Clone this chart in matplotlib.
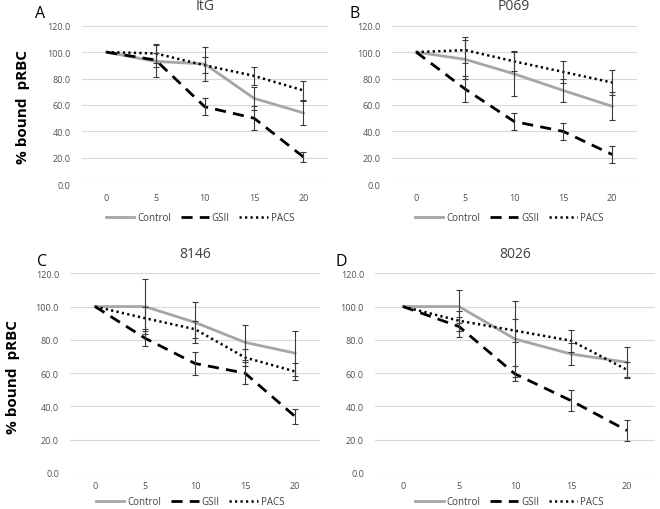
import numpy as np
import matplotlib
matplotlib.use("Agg")
import matplotlib.pyplot as plt

plt.rcParams['font.family'] = ['Open Sans', 'DejaVu Sans']

times = ['0', '5', '10', '15', '20']
series_names = ['Control', 'GSII', 'PACS']
panel_titles = ['ItG', 'P069', '8146', '8026']
panel_letters = ['A', 'B', 'C', 'D']

# mean % bound pRBC, per panel, per series
itg_mean = [[100, 93, 91, 65, 54], [100, 94, 58.6, 50, 20.7], [100, 99, 90, 82, 71]]
itg_err = [[0, 12, 13, 8.5, 9], [0, 5, 6.5, 9, 3.5], [0, 7, 6, 7, 7.5]]
p069_mean = [[100, 94.5, 83.5, 71, 59], [100, 72, 47.5, 40, 22.5], [100, 101.5, 93, 85, 77]]
p069_err = [[0, 15, 17, 8.5, 10.5], [0, 9.7, 6.5, 6.3, 6.5], [0, 10, 7, 8, 9.5]]
s8146_mean = [[100, 100, 90.5, 78.5, 72], [100, 81, 65.8, 60, 34], [100, 93, 86.4, 69.4, 61]]
s8146_err = [[0, 16.5, 12.5, 10.4, 13.5], [0, 4.5, 7.2, 6.5, 4.7], [0, 6.5, 5, 5, 5]]
s8026_mean = [[100, 100, 80.5, 71.5, 66.5], [100, 88, 59.5, 43.5, 25.5], [100, 91.5, 85.5, 79.5, 62]]
s8026_err = [[0, 10, 23, 6.5, 9.5], [0, 6, 4.5, 6.5, 6.5], [0, 6, 7, 6.6, 4.5]]

all_means = [itg_mean, p069_mean, s8146_mean, s8026_mean]
all_errs = [itg_err, p069_err, s8146_err, s8026_err]

fig = plt.figure(figsize=(6.6, 5.1), dpi=100)
positions = [[0.1238, 0.6367, 0.3732, 0.311],
             [0.5935, 0.6367, 0.3712, 0.311],
             [0.1061, 0.0706, 0.3788, 0.3916],
             [0.5682, 0.0706, 0.4242, 0.3916]]
legend_y = [-0.212, -0.212, -0.145, -0.145]
letter_pos = [(0.053, 0.972), (0.53, 0.972), (0.056, 0.486), (0.508, 0.486)]

styles = [dict(color='#A6A6A6', lw=2.0, ls='-'),
          dict(color='black', lw=2.0, ls=(0, (4, 2.6))),
          dict(color='black', lw=1.8, ls=(0, (0.9, 1.3)))]

x = np.arange(len(times))
for i in range(4):
    ax = fig.add_axes(positions[i])
    for j in range(3):
        ax.plot(x, all_means[i][j], label=series_names[j], zorder=3, **styles[j])
        ax.errorbar(x[1:], all_means[i][j][1:], yerr=all_errs[i][j][1:], fmt='none',
                    ecolor='#3a3a3a', elinewidth=0.8, capsize=2.5, capthick=0.8, zorder=4)
    ax.set_xlim(-0.5, 4.5)
    ax.set_ylim(0, 120)
    ax.set_yticks(np.arange(0, 121, 20))
    ax.set_yticklabels([f"{v:.1f}" for v in np.arange(0, 121, 20)])
    ax.set_xticks(x)
    ax.set_xticklabels(times)
    ax.grid(axis='y', color='#D9D9D9', lw=0.8)
    ax.set_axisbelow(True)
    for s in ax.spines.values():
        s.set_visible(False)
    ax.tick_params(length=0, labelsize=6.5, labelcolor='#505050', pad=6)
    ax.tick_params(axis='y', pad=8)
    ax.set_title(panel_titles[i], fontsize=10, color='#404040', pad=12)
    ax.legend(loc='center', bbox_to_anchor=(0.48, legend_y[i]), ncol=3, frameon=False,
              fontsize=7, handlelength=2.9, columnspacing=1.0, handletextpad=0.3,
              labelcolor='#404040')
    fig.text(letter_pos[i][0], letter_pos[i][1], panel_letters[i], fontsize=11.5, va='center')

fig.text(0.035, 0.79, '% bound  pRBC', rotation=90, fontsize=11, fontweight='bold',
         va='center', ha='center')
fig.text(0.02, 0.26, '% bound  pRBC', rotation=90, fontsize=11, fontweight='bold',
         va='center', ha='center')

fig.savefig('out.png', dpi=100)
